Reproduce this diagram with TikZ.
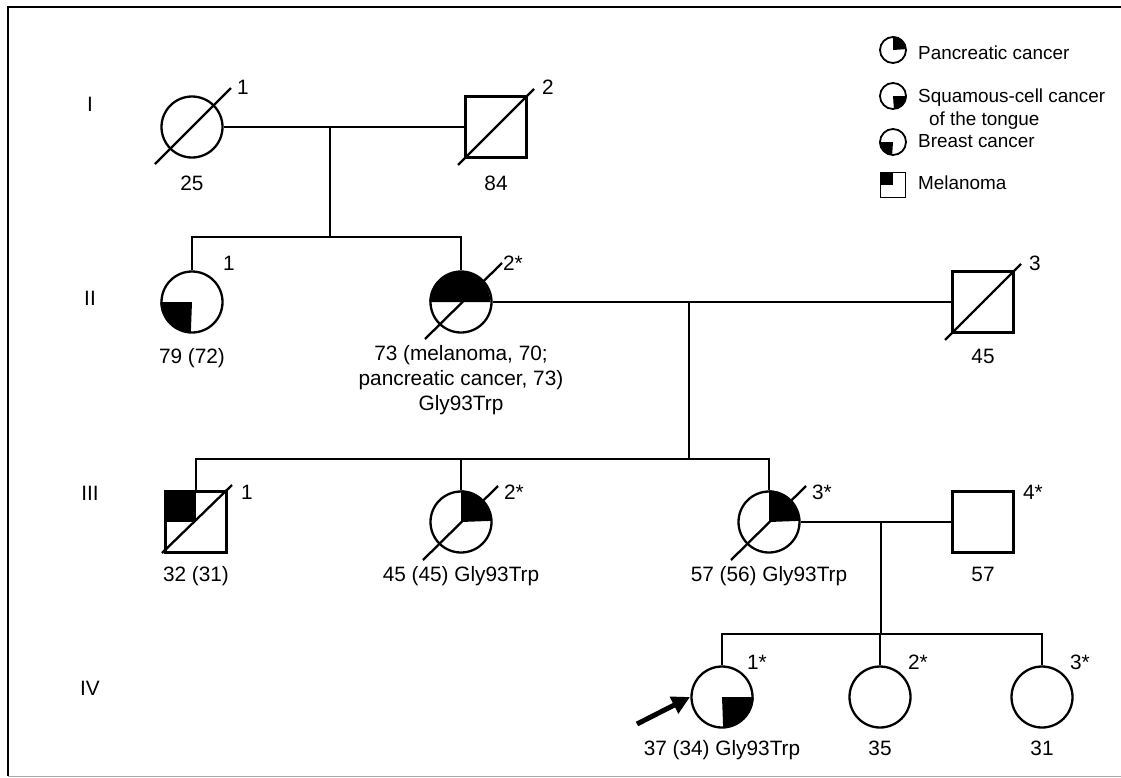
\documentclass[tikz,border=0pt]{standalone}
\usepackage{fontspec}
\setmainfont{Liberation Sans}
\usetikzlibrary{positioning,calc,arrows.meta}

\begin{document}
\begin{tikzpicture}[
    x=1pt, y=1pt,
    line width=2.3pt,
    female/.style={circle, draw, fill=white, minimum size=61pt, inner sep=0pt},
    male/.style={rectangle, draw, fill=white, minimum size=61pt, inner sep=0pt},
    keyfemale/.style={circle, draw, fill=white, line width=1.8pt, minimum size=26pt, inner sep=0pt},
    keymale/.style={rectangle, draw, fill=white, line width=1.8pt, minimum size=25pt, inner sep=0pt},
    num/.style={font=\fontsize{20.8}{25}\selectfont, inner sep=0pt},
    age/.style={font=\fontsize{20.8}{25}\selectfont, inner sep=0pt, anchor=base, align=center},
    key/.style={font=\fontsize{18.9}{23}\selectfont, inner sep=0pt, anchor=west, align=left}
]
    \useasboundingbox (0,0) rectangle (1121,-777);
    \draw[line width=2.5pt] (8,-776) -- (8,-7) -- (1121,-7);
    \draw[black!35, line width=1pt] (8,-776) -- (1121,-776);

    % Generations
    \node[num] (gI) at (90,-104) {I};
    \node[num] (gII) at (90,-298) {II};
    \node[num] (gIII) at (90,-493) {III};
    \node[num] (gIV) at (90,-688) {IV};

    % Generation I
    \node[female] (i1) at (192,-127) {};
    \node[male] (i2) at (496,-127) {};
    \draw ($(i1)+(-37,-37)$) -- ($(i1)+(39,39)$);
    \draw ($(i2)+(-38,-38)$) -- ($(i2)+(38,38)$);
    \node[num] at ($(i1)+(51,40)$) {1};
    \node[num] at ($(i2)+(52,40)$) {2};
    \node[age] at ($(i1.south)+(0,-32)$) {25};
    \node[age] at ($(i2.south)+(0,-32)$) {84};
    \coordinate (m1) at (330,-127);
    \coordinate (s1) at (330,-237);

    % Generation II
    \node[female] (ii1) at (192,-302) {};
    \node[female] (ii2) at (461,-302) {};
    \node[male] (ii3) at (983,-302) {};
    \fill (ii1.center) -- (ii1.west) arc[start angle=180, end angle=270, radius=30.5pt] -- cycle;
    \fill (ii2.west) arc[start angle=180, end angle=0, radius=30.5pt] -- cycle;
    \draw ($(ii2)+(-36,-37)$) -- ($(ii2)+(41,39)$);
    \draw ($(ii3)+(-38,-38)$) -- ($(ii3)+(38,38)$);
    \node[num] at ($(ii1)+(37,39)$) {1};
    \node[num] at ($(ii2)+(52,39)$) {2*};
    \node[num] at ($(ii3)+(52,39)$) {3};
    \node[age] at ($(ii1.south)+(0,-30)$) {79 (72)};
    \node[age, anchor=north] at ($(ii2.south)+(0,-11)$) {73 (melanoma, 70;\\pancreatic cancer, 73)\\Gly93Trp};
    \node[age] at ($(ii3.south)+(0,-30)$) {45};
    \coordinate (m2) at (689,-302);
    \coordinate (s2) at (689,-459);

    % Generation III
    \node[male] (iii1) at (196,-522) {};
    \node[female] (iii2) at (461,-522) {};
    \node[female] (iii3) at (769,-522) {};
    \node[male] (iii4) at (983,-522) {};
    \fill (iii1.center) rectangle (iii1.north west);
    \fill (iii2.center) -- (iii2.north) arc[start angle=90, end angle=0, radius=30.5pt] -- cycle;
    \fill (iii3.center) -- (iii3.north) arc[start angle=90, end angle=0, radius=30.5pt] -- cycle;
    \draw ($(iii1)+(-34,-31)$) -- ($(iii1)+(36,37)$);
    \draw ($(iii2)+(-38,-38)$) -- ($(iii2)+(37,36)$);
    \draw ($(iii3)+(-38,-38)$) -- ($(iii3)+(37,36)$);
    \node[num] at ($(iii1)+(51,30)$) {1};
    \node[num] at ($(iii2)+(53,30)$) {2*};
    \node[num] at ($(iii3)+(53,30)$) {3*};
    \node[num] at ($(iii4)+(50,30)$) {4*};
    \node[age] at ($(iii1.south)+(0,-28)$) {32 (31)};
    \node[age] at ($(iii2.south)+(0,-28)$) {45 (45) Gly93Trp};
    \node[age] at ($(iii3.south)+(0,-28)$) {57 (56) Gly93Trp};
    \node[age] at ($(iii4.south)+(0,-28)$) {57};
    \coordinate (m3) at (881,-522);
    \coordinate (s3) at (881,-634);

    % Generation IV
    \node[female] (iv1) at (722,-697) {};
    \node[female] (iv2) at (880,-697) {};
    \node[female] (iv3) at (1042,-697) {};
    \fill (iv1.center) -- (iv1.east) arc[start angle=0, end angle=-90, radius=30.5pt] -- cycle;
    \node[num] at ($(iv1)+(35,35)$) {1*};
    \node[num] at ($(iv2)+(38,35)$) {2*};
    \node[num] at ($(iv3)+(38,35)$) {3*};
    \node[age] at ($(iv1.south)+(0,-27)$) {37 (34) Gly93Trp};
    \node[age] at ($(iv2.south)+(0,-27)$) {35};
    \node[age] at ($(iv3.south)+(0,-27)$) {31};

    % Proband
    \coordinate (ptail) at (637,-724);
    \coordinate (phead) at (690,-697);
    \draw[line width=5pt, -{Triangle[length=18pt, width=18pt]}] (ptail) -- (phead);

    % Lines
    \draw (i1) -- (i2);
    \draw (m1) -- (s1);
    \draw (ii1.north) |- (s1) -| (ii2.north);
    \draw (ii2) -- (ii3);
    \draw (m2) -- (s2);
    \draw (iii1.north) |- (s2) -| (iii3.north);
    \draw (iii2.north) -- (iii2.north |- s2);
    \draw (iii3) -- (iii4);
    \draw (m3) -- (s3);
    \draw (iv1.north) |- (s3) -| (iv3.north);
    \draw (iv2.north) -- (iv2.north |- s3);

    % Key
    \node[keyfemale] (k1) at (893,-50) {};
    \node[keyfemale] (k2) at (893,-96) {};
    \node[keyfemale] (k3) at (893,-142) {};
    \node[keymale] (k4) at (893,-185) {};
    \fill (k1.center) -- (k1.north) arc[start angle=90, end angle=0, radius=13pt] -- cycle;
    \fill (k2.center) -- (k2.east) arc[start angle=0, end angle=-90, radius=13pt] -- cycle;
    \fill (k3.center) -- (k3.west) arc[start angle=180, end angle=270, radius=13pt] -- cycle;
    \fill (k4.center) rectangle (k4.north west);
    \node[key] at (917,-53) {Pancreatic cancer};
    \node[key, anchor=north west] at (917,-88) {Squamous-cell cancer\\\hspace*{11pt}of the tongue};
    \node[key] at (917,-141) {Breast cancer};
    \node[key] at (917,-183) {Melanoma};
\end{tikzpicture}
\end{document}
